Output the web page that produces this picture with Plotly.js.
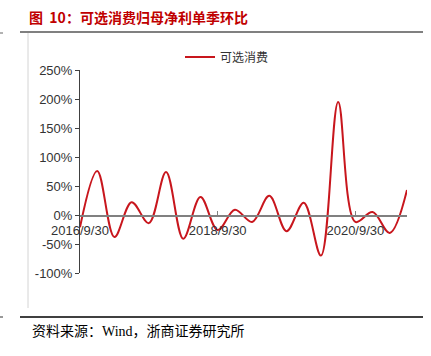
<!DOCTYPE html>
<html>
<head>
<meta charset="utf-8">
<script src="https://cdn.plot.ly/plotly-3.0.1.min.js"></script>
<style>html,body{margin:0;padding:0;background:#fff;}#chart{width:431px;height:356px;}</style>
</head>
<body>
<div id="chart"></div>
<script>
// ---- data ----
const quarters = ['2016/9/30','2016/12/31','2017/3/31','2017/6/30','2017/9/30','2017/12/31','2018/3/31','2018/6/30',
  '2018/9/30','2018/12/31','2019/3/31','2019/6/30','2019/9/30','2019/12/31','2020/3/31','2020/6/30',
  '2020/9/30','2020/12/31','2021/3/31','2021/6/30'];
const seriesName = '可选消费';
const qoqValues = [-21, 76, -38, 22, -14, 74, -41, 31, -26, 9, -12, 33, -28, 21, -70, 195, -12, 5, -31, 43];
const xTickLabels = ['2016/9/30','2018/9/30','2020/9/30'];
const yTickValues = [-100, -50, 0, 50, 100, 150, 200, 250];
const chartTitle = '图  10：可选消费归母净利单季环比';
const sourceNote = '资料来源：Wind，浙商证券研究所';

// ---- layout helpers (pixel -> paper) ----
const W = 431, H = 356;
const M = {l: 80, r: 24, t: 70, b: 83};
const pw = W - M.l - M.r, ph = H - M.t - M.b;
const px = x => (x - M.l) / pw;
const py = y => (H - M.b - y) / ph;
const yMin = -100, yMax = 250;

const trace = {
  x: quarters, y: qoqValues, type: 'scatter', mode: 'lines', name: seriesName,
  line: {color: '#C8161D', width: 2, shape: 'spline', smoothing: 1}
};

function hline(x0, x1, y, color, width) {
  return {type: 'line', xref: 'paper', yref: 'paper', x0: px(x0), x1: px(x1), y0: py(y), y1: py(y),
    line: {color: color, width: width}};
}
function vline(x, y0, y1, color, width) {
  return {type: 'line', xref: 'paper', yref: 'paper', x0: px(x), x1: px(x), y0: py(y0), y1: py(y1),
    line: {color: color, width: width}};
}

const layout = {
  width: W, height: H, margin: M,
  paper_bgcolor: '#fff', plot_bgcolor: '#fff',
  showlegend: true,
  font: {family: 'Liberation Sans, Arial, sans-serif', size: 13, color: '#333'},
  title: {text: chartTitle, xref: 'container', yref: 'container', x: 29 / W, xanchor: 'left',
    y: 1 - 18 / H, yanchor: 'middle',
    font: {family: 'Noto Sans CJK SC, sans-serif', size: 14, color: '#C00000', weight: 'bold'}},
  legend: {x: px(180), xanchor: 'left', y: py(57), yanchor: 'middle', orientation: 'h',
    font: {family: 'Noto Sans CJK SC, sans-serif', size: 12, color: '#333'},
    itemwidth: 30, bgcolor: 'rgba(0,0,0,0)'},
  xaxis: {
    type: 'category', range: [0, quarters.length - 1],
    tickmode: 'array', tickvals: xTickLabels, ticktext: xTickLabels,
    showline: true, linecolor: '#808080', linewidth: 1.5,
    ticks: 'inside', ticklen: 4, tickcolor: '#808080', tickwidth: 1,
    anchor: 'free', position: (0 - yMin) / (yMax - yMin),
    ticklabelstandoff: 3,
    showgrid: false, zeroline: false,
    tickfont: {size: 13, color: '#333'}
  },
  yaxis: {
    range: [yMin, yMax], tickmode: 'array', tickvals: yTickValues,
    ticktext: yTickValues.map(v => v + '%'),
    showline: true, linecolor: '#404040', linewidth: 1,
    ticks: 'outside', ticklen: 4, tickcolor: '#404040',
    showgrid: false, zeroline: false,
    tickfont: {size: 13, color: '#333'}
  },
  shapes: [
    hline(20, 423, 32, '#808080', 2),
    vline(28, 33, 308, '#d4d4d4', 1),
    hline(20, 423, 317, '#000', 1.3),
    hline(0, 3, 33, '#666', 1),
    hline(0, 3, 317, '#333', 1)
  ],
  annotations: [
    {text: sourceNote, xref: 'paper', yref: 'paper', x: px(30), y: py(331), xanchor: 'left', yanchor: 'middle',
      showarrow: false, font: {family: 'Liberation Serif, Noto Sans CJK SC, serif', size: 14, color: '#000'}}
  ]
};

Plotly.newPlot('chart', [trace], layout, {staticPlot: true, displayModeBar: false});
</script>
</body>
</html>
